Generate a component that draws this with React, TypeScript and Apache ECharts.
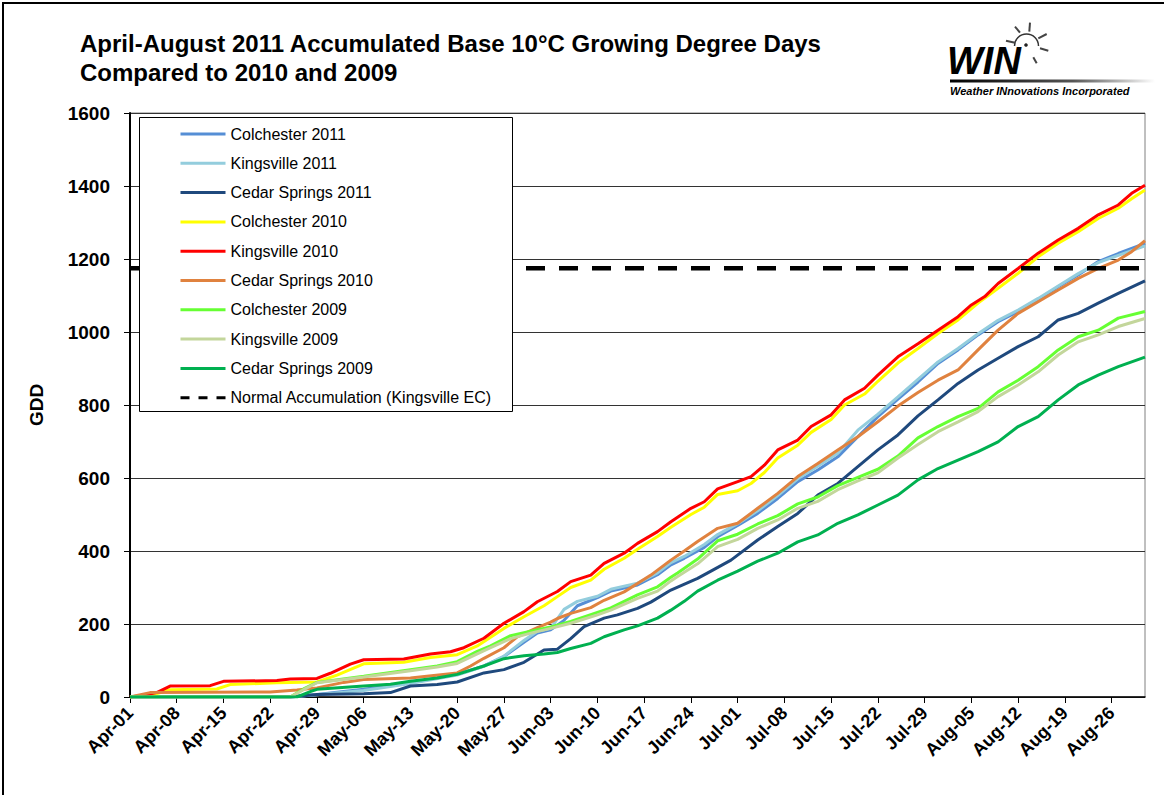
import React, { useEffect, useRef } from "react";
import * as echarts from "echarts";

const MONTHS = ["Apr", "May", "Jun", "Jul", "Aug"];
const MONTH_DAYS = [30, 31, 30, 31, 31];
const DATES: string[] = [];
MONTHS.forEach((m, i) => {
  for (let k = 1; k <= MONTH_DAYS[i]; k++) DATES.push(`${m}-${k < 10 ? "0" + k : k}`);
});

const TITLE = "April-August 2011 Accumulated Base 10\u00b0C Growing Degree Days\nCompared to 2010 and 2009";
const Y_TICKS = { min: 0, max: 1600, interval: 200 };

// [day index from Apr-01, accumulated GDD]
const COLCHESTER_2011 = [[0,0],[24,0],[28,7],[35,21],[42,39],[49,62],[53,85],[56,111],[59,150],[61,175],[63,184],[65,210],[67,250],[70,272],[72,290],[76,307],[79,335],[81,362],[83,380],[86,410],[88,439],[91,470],[94,503],[97,544],[100,590],[103,622],[106,658],[109,713],[112,768],[115,816],[118,863],[121,914],[124,951],[127,992],[130,1028],[133,1056],[136,1088],[139,1124],[142,1156],[145,1193],[148,1215],[152,1243]];
const KINGSVILLE_2011 = [[0,0],[24,0],[28,6],[35,18],[42,37],[49,60],[53,84],[56,112],[59,155],[61,180],[63,188],[65,240],[67,262],[70,276],[72,295],[76,312],[79,340],[81,368],[83,385],[86,418],[88,445],[91,475],[94,510],[97,552],[100,598],[103,632],[106,668],[109,731],[112,775],[115,822],[118,870],[121,918],[124,955],[127,995],[130,1032],[133,1060],[136,1092],[139,1126],[142,1160],[145,1190],[148,1210],[152,1236]];
const CEDAR_SPRINGS_2011 = [[0,0],[24,0],[28,7],[35,9],[39,12],[42,30],[46,34],[49,41],[53,66],[56,75],[59,95],[62,129],[64,131],[66,160],[68,193],[71,216],[73,225],[76,243],[78,260],[81,293],[85,325],[87,345],[90,375],[94,430],[97,467],[100,503],[103,553],[106,585],[109,631],[112,677],[115,718],[118,770],[121,814],[124,859],[127,896],[130,928],[133,960],[136,987],[139,1033],[142,1051],[145,1079],[148,1106],[152,1140]];
const COLCHESTER_2010 = [[0,0],[3,4],[6,20],[13,22],[15,34],[22,39],[28,41],[31,60],[35,91],[41,95],[45,108],[49,116],[52,140],[56,188],[59,220],[62,250],[64,275],[66,300],[69,320],[71,350],[74,380],[76,405],[79,440],[81,465],[84,500],[86,520],[88,555],[91,565],[93,585],[95,615],[97,655],[100,690],[102,725],[105,760],[107,800],[110,830],[112,865],[115,915],[118,955],[121,996],[124,1033],[127,1079],[130,1120],[133,1161],[136,1206],[139,1243],[142,1275],[145,1311],[148,1339],[150,1365],[152,1389]];
const KINGSVILLE_2010 = [[0,0],[2,5],[4,12],[6,30],[12,31],[14,43],[22,45],[24,49],[28,51],[30,65],[33,90],[35,102],[41,104],[45,118],[48,124],[50,135],[53,161],[56,202],[59,234],[61,261],[64,289],[66,316],[69,334],[71,366],[74,394],[76,421],[79,453],[81,480],[84,517],[86,535],[88,570],[91,590],[93,604],[95,635],[97,677],[100,704],[102,741],[105,773],[107,814],[110,846],[112,882],[115,932],[118,968],[121,1005],[124,1042],[126,1074],[128,1097],[130,1133],[133,1174],[136,1216],[139,1252],[142,1284],[145,1321],[148,1348],[150,1380],[152,1402]];
const CEDAR_SPRINGS_2010 = [[0,0],[3,12],[21,14],[25,19],[28,25],[32,40],[35,48],[42,52],[49,66],[51,85],[53,106],[56,135],[58,165],[61,190],[63,205],[64,215],[66,229],[69,245],[71,265],[74,288],[76,311],[78,334],[81,375],[83,400],[85,426],[88,462],[91,476],[94,517],[97,558],[100,604],[103,640],[106,677],[109,713],[112,754],[115,797],[118,834],[121,868],[124,896],[127,951],[130,1005],[133,1051],[136,1083],[139,1115],[142,1147],[145,1174],[148,1197],[150,1220],[152,1250]];
const COLCHESTER_2009 = [[0,0],[24,0],[26,22],[28,40],[35,57],[42,75],[46,85],[49,97],[52,125],[54,140],[57,168],[60,180],[63,192],[66,207],[70,232],[72,244],[76,280],[79,302],[81,328],[82,340],[85,378],[88,428],[91,446],[94,474],[97,497],[100,529],[103,548],[106,579],[109,602],[112,624],[115,660],[118,710],[121,741],[124,768],[127,791],[130,836],[133,868],[136,905],[139,951],[142,987],[145,1005],[148,1038],[152,1056]];
const KINGSVILLE_2009 = [[0,0],[24,0],[26,20],[28,39],[35,55],[42,72],[46,82],[49,92],[52,118],[54,135],[57,160],[60,175],[63,188],[66,202],[70,225],[72,238],[76,270],[79,290],[81,318],[82,330],[85,365],[88,412],[91,432],[94,462],[97,485],[100,517],[103,536],[106,568],[109,592],[112,614],[115,655],[118,692],[121,727],[124,754],[127,782],[130,823],[133,855],[136,891],[139,937],[142,973],[145,992],[148,1015],[152,1037]];
const CEDAR_SPRINGS_2009 = [[0,0],[25,0],[27,15],[28,21],[35,30],[39,35],[42,43],[46,52],[49,62],[53,85],[56,105],[59,113],[62,118],[64,122],[66,133],[69,147],[71,165],[74,184],[76,195],[79,216],[81,238],[83,262],[85,290],[88,320],[91,345],[94,372],[97,394],[100,425],[103,444],[106,476],[109,499],[112,526],[115,553],[118,595],[121,626],[124,649],[127,672],[130,699],[133,741],[136,768],[139,814],[142,855],[145,882],[148,905],[152,931]];
const NORMAL_ACCUMULATION = [[0,1175],[152,1175]];

const SERIES = [
  { name: "Colchester 2011", data: COLCHESTER_2011, color: "#558ED5" },
  { name: "Kingsville 2011", data: KINGSVILLE_2011, color: "#93CDDD" },
  { name: "Cedar Springs 2011", data: CEDAR_SPRINGS_2011, color: "#1F497D" },
  { name: "Colchester 2010", data: COLCHESTER_2010, color: "#FFFF00" },
  { name: "Kingsville 2010", data: KINGSVILLE_2010, color: "#FF0000" },
  { name: "Cedar Springs 2010", data: CEDAR_SPRINGS_2010, color: "#E0823F" },
  { name: "Colchester 2009", data: COLCHESTER_2009, color: "#66FF33" },
  { name: "Kingsville 2009", data: KINGSVILLE_2009, color: "#C3D69B" },
  { name: "Cedar Springs 2009", data: CEDAR_SPRINGS_2009, color: "#00B050" },
];
const NORMAL_NAME = "Normal Accumulation (Kingsville EC)";

const FONT = '"Liberation Sans", Arial, sans-serif';

export default function App() {
  const ref = useRef<HTMLDivElement>(null);
  useEffect(() => {
    if (!ref.current) return;
    const chart = echarts.init(ref.current, undefined, { renderer: "svg" });
    const lineSeries: any[] = SERIES.map((s) => ({
      name: s.name,
      type: "line",
      data: s.data,
      symbol: "none",
      color: s.color,
      itemStyle: { color: s.color, opacity: 0 },
      lineStyle: { color: s.color, width: 3 },
      z: 2,
    }));
    lineSeries.push({
      name: NORMAL_NAME,
      type: "line",
      data: NORMAL_ACCUMULATION,
      symbol: "none",
      color: "#000",
      itemStyle: { color: "#000", opacity: 0 },
      lineStyle: { color: "#000", width: 4.5, type: [19, 14] },
      z: 2,
    });
    chart.setOption({
      animation: false,
      backgroundColor: "#fff",
      title: {
        text: TITLE,
        left: 75,
        top: 24,
        textStyle: { fontFamily: FONT, fontSize: 24, fontWeight: "bold", color: "#000", lineHeight: 29 },
      },
      grid: { left: 130, top: 113, right: 19, bottom: 98, show: true, borderColor: "#808080", borderWidth: 1, backgroundColor: "transparent" },
      legend: {
        orient: "vertical",
        left: 139,
        top: 117,
        padding: [9, 10, 7, 40],
        itemWidth: 45,
        itemHeight: 14,
        itemGap: 13.3,
        itemStyle: { opacity: 0 },
        textStyle: { fontFamily: FONT, fontSize: 16, color: "#000", lineHeight: 16 },
        data: [
          ...SERIES.map((s) => ({ name: s.name, itemStyle: { opacity: 0 }, lineStyle: { width: 3 } })),
          { name: NORMAL_NAME, itemStyle: { opacity: 0 }, lineStyle: { width: 3, type: [9, 9] } },
        ],
        z: 4,
      },
      xAxis: {
        type: "category",
        data: DATES,
        boundaryGap: false,
        axisLine: { lineStyle: { color: "#000", width: 1.5 } },
        axisTick: { interval: 6, length: 6, lineStyle: { color: "#000" } },
        axisLabel: { interval: 6, rotate: 45, margin: 13, fontFamily: FONT, fontSize: 18, fontWeight: "bold", color: "#000" },
        splitLine: { show: false },
      },
      yAxis: {
        type: "value",
        min: Y_TICKS.min,
        max: Y_TICKS.max,
        interval: Y_TICKS.interval,
        name: "GDD",
        nameLocation: "middle",
        nameRotate: 90,
        nameGap: 84,
        nameTextStyle: { fontFamily: FONT, fontSize: 19, fontWeight: "bold", color: "#000" },
        axisLine: { show: true, lineStyle: { color: "#000", width: 2 } },
        axisTick: { show: true, length: 6, lineStyle: { color: "#000" } },
        axisLabel: { margin: 20, formatter: (v: number) => String(v), fontFamily: FONT, fontSize: 19, fontWeight: "bold", color: "#000" },
        splitLine: { lineStyle: { color: "#333", width: 1 } },
      },
      graphic: [
        { type: "rect", silent: true, z: 0, shape: { x: 3, y: 3, width: 1200, height: 850 }, style: { fill: "none", stroke: "#000", lineWidth: 2 } },
        { type: "rect", silent: true, z: 3, shape: { x: 139.5, y: 117.5, width: 373, height: 294 }, style: { fill: "#fff", stroke: "#000", lineWidth: 1 } },
        { type: "text", silent: true, x: 947, y: 42, style: { text: "WIN", font: `italic 900 38px ${FONT}`, fill: "#000", verticalAlign: "top" } },
        { type: "arc", silent: true, shape: { cx: 1026.5, cy: 46, r: 12, startAngle: Math.PI, endAngle: 2 * Math.PI }, style: { stroke: "#333", lineWidth: 1.5, fill: "none" } },
        { type: "circle", silent: true, shape: { cx: 1026, cy: 45, r: 1.8 }, style: { fill: "#222" } },
        { type: "line", silent: true, shape: { x1: 1015, y1: 26.7, x2: 1020, y2: 32.7 }, style: { stroke: "#444", lineWidth: 2 } },
        { type: "line", silent: true, shape: { x1: 1030, y1: 22.7, x2: 1029.3, y2: 31.7 }, style: { stroke: "#444", lineWidth: 2 } },
        { type: "line", silent: true, shape: { x1: 1046.7, y1: 34, x2: 1038.3, y2: 38.3 }, style: { stroke: "#444", lineWidth: 2 } },
        { type: "line", silent: true, shape: { x1: 1048.3, y1: 50.7, x2: 1040, y2: 48.3 }, style: { stroke: "#444", lineWidth: 2 } },
        { type: "line", silent: true, shape: { x1: 1036.7, y1: 63.3, x2: 1033.3, y2: 57.3 }, style: { stroke: "#444", lineWidth: 2 } },
        { type: "line", silent: true, shape: { x1: 1006, y1: 40.7, x2: 1015, y2: 42.7 }, style: { stroke: "#444", lineWidth: 2 } },
        {
          type: "rect", silent: true, shape: { x: 950, y: 79.5, width: 205, height: 3 },
          style: { fill: new echarts.graphic.LinearGradient(0, 0, 1, 0, [{ offset: 0, color: "#000" }, { offset: 0.6, color: "#555" }, { offset: 1, color: "#fff" }]) },
        },
        { type: "text", silent: true, x: 950, y: 85, style: { text: "Weather INnovations Incorporated", font: `italic bold 11px ${FONT}`, fill: "#000", verticalAlign: "top" } },
      ],
      series: lineSeries,
    });
    return () => chart.dispose();
  }, []);
  return <div ref={ref} style={{ position: "absolute", left: 0, top: 0, width: 1164, height: 795 }} />;
}
